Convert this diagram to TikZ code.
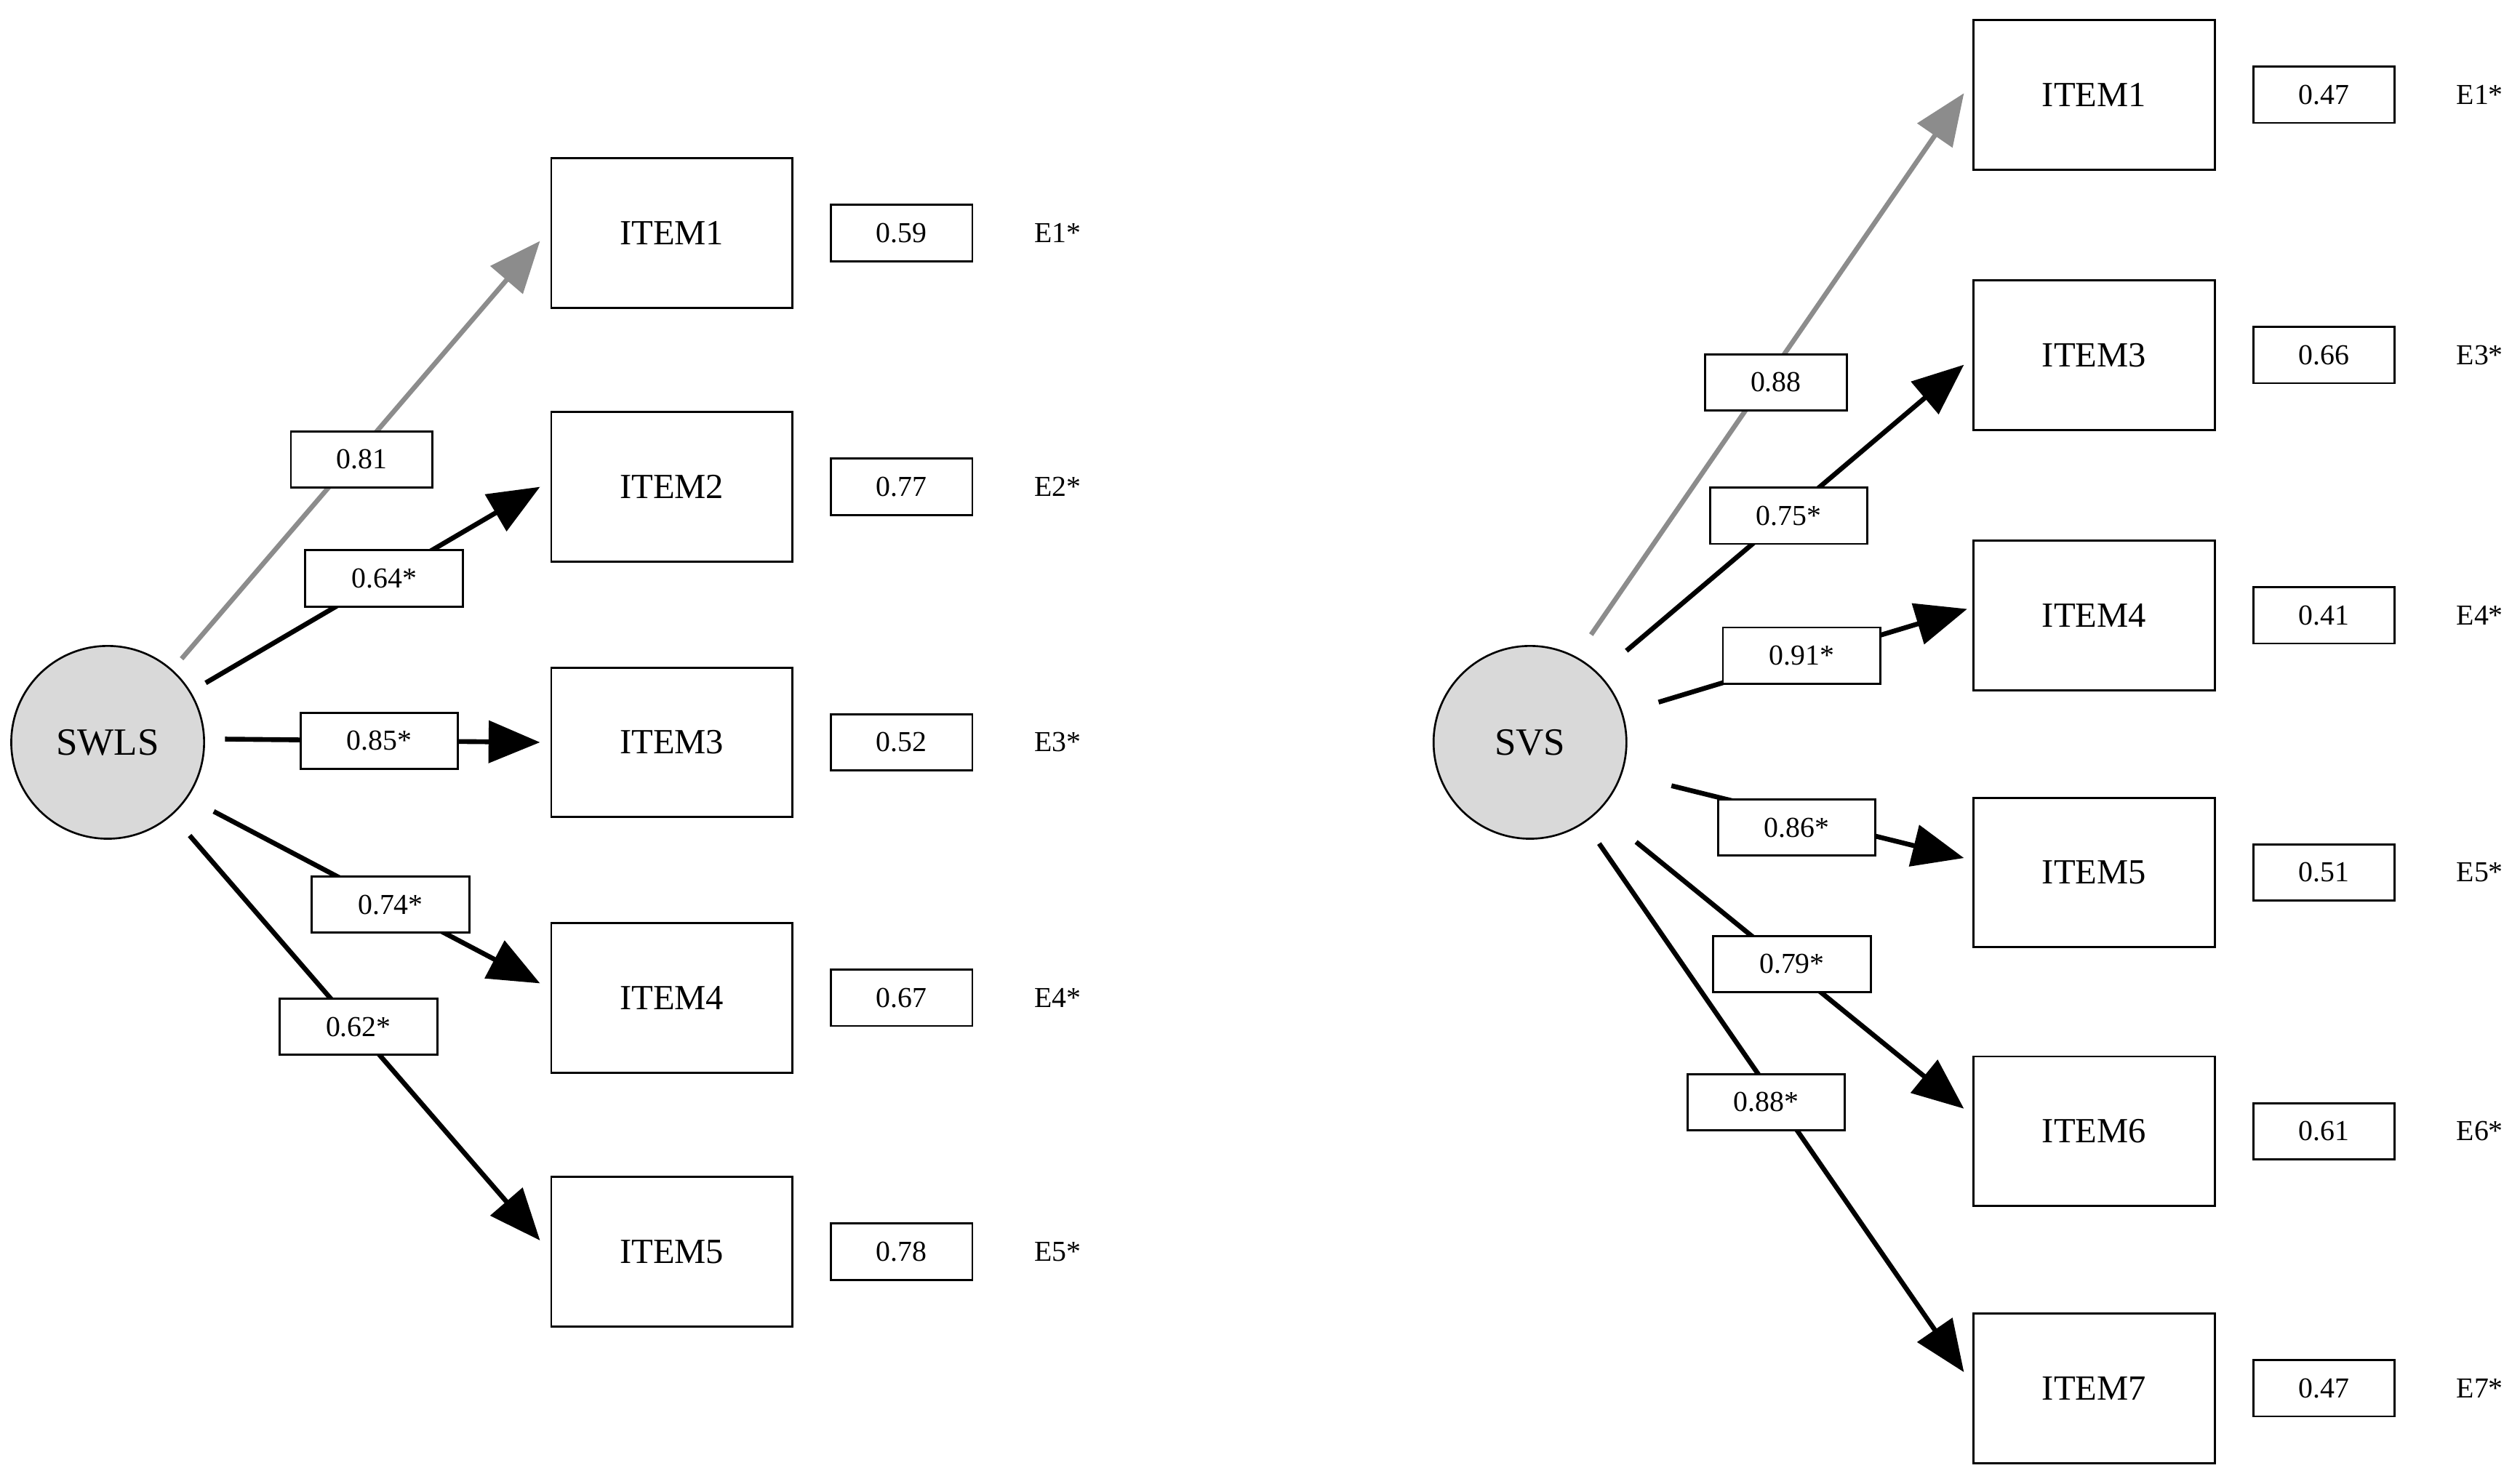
\documentclass[tikz,border=0pt]{standalone}
\usepackage{fontspec}
\setmainfont{Liberation Serif}
\usetikzlibrary{arrows.meta}
\begin{document}
\begin{tikzpicture}[x=1pt,y=-1pt,
 item/.style={draw,line width=1.3pt,minimum width=150pt,minimum height=93pt,font=\fontsize{22}{24}\selectfont},
 val/.style={draw,line width=1.3pt,minimum width=88pt,minimum height=35pt,inner sep=0pt,font=\fontsize{18}{20}\selectfont},
 lab/.style={val,fill=white,minimum width=98pt},
 lab0/.style={val,fill=white},
 err/.style={font=\fontsize{18}{20}\selectfont},
 lat/.style={circle,draw,fill=gray!30,line width=1.2pt,minimum size=120pt,font=\fontsize{24}{26}\selectfont},
 ar/.style={line width=3pt,-{Triangle[length=32pt,width=26pt]}},
 gar/.style={line width=3pt,gray!90,-{Triangle[length=32pt,width=26pt]}}]
\useasboundingbox (0,0) rectangle (1568,918.6);
% left
\node[lat] (swls) at (67,462) {SWLS};
\foreach \i/\y/\v in {1/145/0.59,2/303/0.77,3/462/0.52,4/621/0.67,5/779/0.78}{
 \node[item] (L\i) at (418,\y) {ITEM\i};
 \node[val] (LV\i) at (561,\y) {\v};
 \node[err] (LE\i) at (658,\y) {E\i*};
}
\coordinate (ls1) at (113,410); \coordinate (le1) at (336,150);
\coordinate (ls2) at (128,425); \coordinate (le2) at (336,303);
\coordinate (ls3) at (140,460); \coordinate (le3) at (336,462);
\coordinate (ls4) at (133,505); \coordinate (le4) at (336,612);
\coordinate (ls5) at (118,520); \coordinate (le5) at (336,772);
\draw[gar] (ls1) -- (le1);
\foreach \i in {2,...,5}{\draw[ar] (ls\i) -- (le\i);}
\node[lab0] (ll1) at (225,286) {0.81};
\node[lab] (ll2) at (239,360) {0.64*};
\node[lab] (ll3) at (236,461) {0.85*};
\node[lab] (ll4) at (243,563) {0.74*};
\node[lab] (ll5) at (223,639) {0.62*};
% right
\node[lat] (svs) at (952,462) {SVS};
\foreach \i/\y/\v in {1/59/0.47,3/221/0.66,4/383/0.41,5/543/0.51,6/704/0.61,7/864/0.47}{
 \node[item] (R\i) at (1303,\y) {ITEM\i};
 \node[val] (RV\i) at (1446,\y) {\v};
 \node[err] (RE\i) at (1543,\y) {E\i*};
}
\coordinate (rs1) at (990,395); \coordinate (re1) at (1222,58);
\coordinate (rs3) at (1012,405); \coordinate (re3) at (1222,227);
\coordinate (rs4) at (1032,437); \coordinate (re4) at (1224,379);
\coordinate (rs5) at (1040,489); \coordinate (re5) at (1222,534);
\coordinate (rs6) at (1018,524); \coordinate (re6) at (1222,690);
\coordinate (rs7) at (995,525); \coordinate (re7) at (1222,854);
\draw[gar] (rs1) -- (re1);
\foreach \i in {3,...,7}{\draw[ar] (rs\i) -- (re\i);}
\node[lab0] (rl1) at (1105,238) {0.88};
\node[lab] (rl3) at (1113,321) {0.75*};
\node[lab] (rl4) at (1121,408) {0.91*};
\node[lab] (rl5) at (1118,515) {0.86*};
\node[lab] (rl6) at (1115,600) {0.79*};
\node[lab] (rl7) at (1099,686) {0.88*};
\end{tikzpicture}
\end{document}
